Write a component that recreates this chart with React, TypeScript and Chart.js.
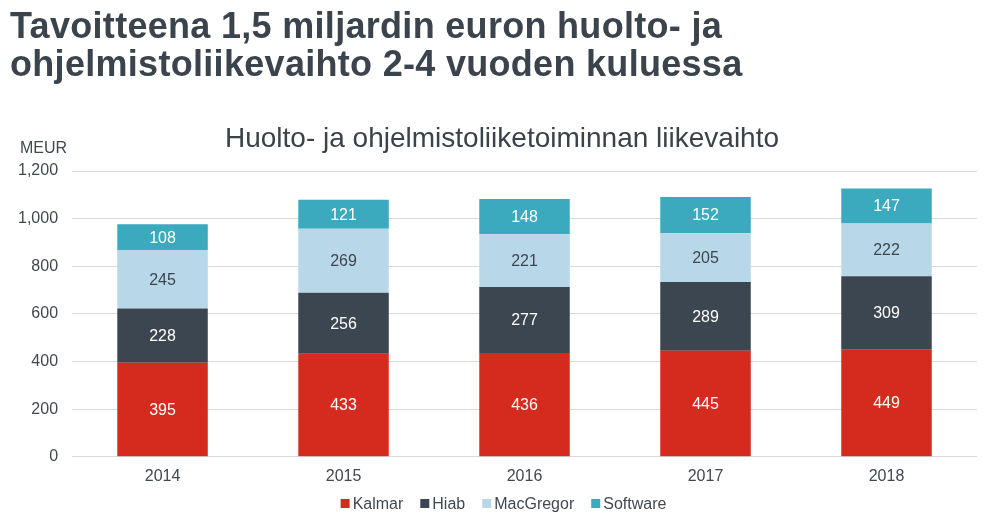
import React, { useEffect, useRef } from "react";
import { Chart, registerables } from "chart.js";

Chart.register(...registerables);

const years = ["2014", "2015", "2016", "2017", "2018"];
const kalmar = [395, 433, 436, 445, 449];
const hiab = [228, 256, 277, 289, 309];
const macgregor = [245, 269, 221, 205, 222];
const software = [108, 121, 148, 152, 147];

const seriesNames = ["Kalmar", "Hiab", "MacGregor", "Software"];
const seriesColors = ["#d52b1e", "#3c4650", "#b8d8ea", "#3ba9be"];
const labelColors = ["#ffffff", "#ffffff", "#3c4650", "#ffffff"];

const mainTitle = ["Tavoitteena 1,5 miljardin euron huolto- ja", "ohjelmistoliikevaihto 2-4 vuoden kuluessa"];
const chartTitle = "Huolto- ja ohjelmistoliiketoiminnan liikevaihto";
const unitLabel = "MEUR";

const FONT = "'Liberation Sans', Arial, sans-serif";
const TEXT = "#404850";

const extras = {
  id: "extras",
  afterDatasetsDraw(chart: any) {
    const ctx = chart.ctx;
    ctx.save();
    ctx.font = `16px ${FONT}`;
    ctx.textAlign = "center";
    ctx.textBaseline = "middle";
    chart.data.datasets.forEach((ds: any, i: number) => {
      const meta = chart.getDatasetMeta(i);
      meta.data.forEach((bar: any, j: number) => {
        const y = (bar.y + bar.base) / 2;
        ctx.fillStyle = labelColors[i];
        ctx.fillText(String(ds.data[j]), bar.x, y + 1);
      });
    });
    const area = chart.chartArea;
    // unit label
    ctx.font = `16px ${FONT}`;
    ctx.fillStyle = TEXT;
    ctx.textAlign = "left";
    ctx.fillText(unitLabel, 20, area.top - 22);
    // chart title
    ctx.font = `28px ${FONT}`;
    ctx.fillStyle = "#3a424a";
    ctx.textAlign = "center";
    ctx.fillText(chartTitle, 502, area.top - 32);
    // legend
    ctx.font = `16px ${FONT}`;
    const box = 9;
    const gap = 3;
    const itemGap = 17;
    const widths = seriesNames.map((n) => box + gap + ctx.measureText(n).width);
    const total = widths.reduce((a, b) => a + b, 0) + itemGap * (seriesNames.length - 1);
    let x = chart.width / 2 + 4 - total / 2;
    const ly = 503.5;
    ctx.textAlign = "left";
    seriesNames.forEach((n, i) => {
      ctx.fillStyle = seriesColors[i];
      ctx.fillRect(x, ly - box / 2, box, box);
      ctx.fillStyle = TEXT;
      ctx.fillText(n, x + box + gap, ly + 1);
      x += widths[i] + itemGap;
    });
    ctx.restore();
  },
};

export default function App() {
  const ref = useRef<HTMLCanvasElement | null>(null);

  useEffect(() => {
    document.body.style.margin = "0";
    const data = [kalmar, hiab, macgregor, software];
    const chart = new Chart(ref.current as HTMLCanvasElement, {
      type: "bar",
      data: {
        labels: years,
        datasets: seriesNames.map((name, i) => ({
          label: name,
          data: data[i],
          backgroundColor: seriesColors[i],
          borderWidth: 0,
          barPercentage: 0.5,
          categoryPercentage: 1,
        })),
      },
      options: {
        animation: false,
        responsive: false,
        locale: "en-US",
        layout: { padding: { top: 171, left: 4, right: 22, bottom: 27 } },
        plugins: {
          title: { display: false },
          legend: { display: false },
          tooltip: { enabled: false },
        },
        scales: {
          x: {
            stacked: true,
            grid: { display: false, drawTicks: false },
            border: { display: false },
            ticks: { color: TEXT, font: { family: FONT, size: 16 }, padding: 10 },
          },
          y: {
            stacked: true,
            min: 0,
            max: 1200,
            grid: { color: "#d9d9d9", drawTicks: false },
            border: { display: false },
            ticks: {
              stepSize: 200,
              color: TEXT,
              font: { family: FONT, size: 16 },
              padding: 14,
            },
          },
        },
      },
      plugins: [extras],
    });
    return () => chart.destroy();
  }, []);

  return (
    <div style={{ position: "relative", width: 999, height: 523, background: "#fff" }}>
      <canvas ref={ref} width={999} height={523} style={{ position: "absolute", left: 0, top: 0 }} />
      <div
        style={{
          position: "absolute",
          left: 10,
          top: 7,
          fontFamily: FONT,
          fontWeight: "bold",
          fontSize: 36,
          lineHeight: "38px",
          letterSpacing: "0.3px",
          color: "#3b444d",
          whiteSpace: "nowrap",
        }}
      >
        {mainTitle.map((l, i) => (
          <div key={i}>{l}</div>
        ))}
      </div>
    </div>
  );
}
